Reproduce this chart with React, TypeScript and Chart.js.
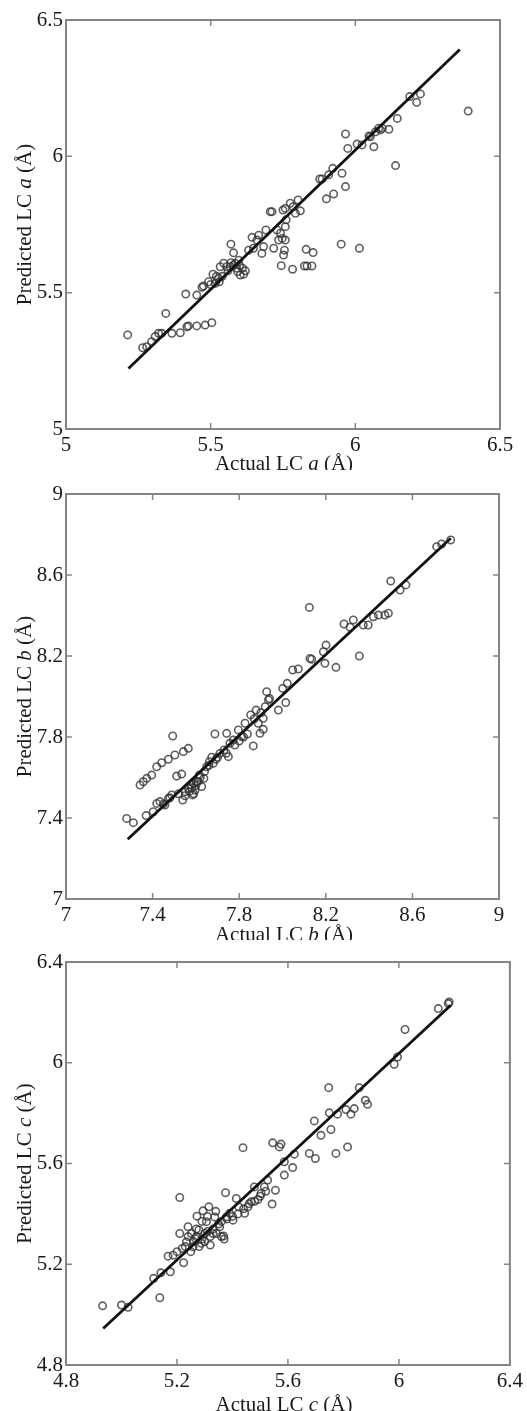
import React, { useEffect, useRef } from "react";
import { Chart, registerables } from "chart.js";

Chart.register(...registerables);

// ---------- Panel A (lattice constant a) ----------
const actualA = [
  5.213, 5.265, 5.279, 5.296, 5.308, 5.32, 5.331, 5.345, 5.366, 5.395, 5.418, 5.423, 5.452, 5.481, 5.504,
  5.414, 5.452, 5.47, 5.475, 5.493, 5.508, 5.516, 5.527, 5.533, 5.545, 5.556, 5.568, 5.579, 5.585, 5.593,
  5.602, 5.614, 5.57, 5.579, 5.597, 5.631, 5.643, 5.66, 5.677, 5.683, 5.691, 5.706, 5.712, 5.718, 5.735,
  5.747, 5.75, 5.758, 5.761, 5.758, 5.755, 5.752, 5.744, 5.783, 5.775, 5.785, 5.81, 5.824, 5.833, 5.83,
  5.85, 5.854, 5.877, 5.885, 5.9, 5.908, 5.922, 5.925, 5.951, 5.954, 5.966, 5.966, 5.974, 6.006, 6.014,
  6.023, 6.047, 6.064, 6.07, 6.081, 6.093, 6.116, 6.139, 6.145, 6.188, 6.212, 6.225, 6.39, 5.648, 5.666,
  5.729, 5.741, 5.758, 6.087, 6.052, 5.802, 5.793, 5.56, 5.59, 5.6, 5.61, 5.62, 5.53, 5.54, 5.5, 5.57, 5.52,
];
const predictedA = [
  5.345, 5.298, 5.302, 5.32, 5.339, 5.351, 5.351, 5.424, 5.351, 5.353, 5.375, 5.378, 5.378, 5.381, 5.39,
  5.495, 5.491, 5.52, 5.524, 5.54, 5.568, 5.534, 5.553, 5.595, 5.608, 5.595, 5.595, 5.601, 5.608, 5.577,
  5.565, 5.568, 5.678, 5.646, 5.619, 5.656, 5.703, 5.693, 5.644, 5.669, 5.73, 5.797, 5.797, 5.663, 5.693,
  5.699, 5.803, 5.809, 5.767, 5.742, 5.656, 5.638, 5.599, 5.586, 5.828, 5.815, 5.8, 5.598, 5.598, 5.659,
  5.598, 5.647, 5.917, 5.917, 5.844, 5.932, 5.956, 5.862, 5.678, 5.938, 5.889, 6.082, 6.029, 6.045, 5.663,
  6.042, 6.075, 6.035, 6.09, 6.103, 6.103, 6.099, 5.966, 6.139, 6.219, 6.198, 6.229, 6.166, 5.663, 5.711,
  5.73, 5.718, 5.693, 6.097, 6.072, 5.84, 5.791, 5.58, 5.59, 5.6, 5.59, 5.58, 5.54, 5.56, 5.53, 5.61, 5.56,
];
const fitXA = [5.216, 6.361];
const fitYA = [5.222, 6.392];
const ticksA = [5, 5.5, 6, 6.5];

// ---------- Panel B (lattice constant b) ----------
const actualB = [
  7.28, 7.311, 7.37, 7.403, 7.342, 7.357, 7.373, 7.396, 7.419, 7.442, 7.473, 7.493, 7.503, 7.542, 7.565,
  7.419, 7.434, 7.457, 7.473, 7.488, 7.511, 7.534, 7.539, 7.55, 7.565, 7.576, 7.585, 7.596, 7.604, 7.616,
  7.627, 7.637, 7.65, 7.662, 7.673, 7.688, 7.693, 7.711, 7.73, 7.742, 7.75, 7.757, 7.773, 7.796, 7.811,
  7.827, 7.838, 7.853, 7.865, 7.878, 7.888, 7.896, 7.911, 7.911, 7.927, 7.935, 7.981, 8.001, 8.015, 8.022,
  8.047, 8.073, 8.124, 8.127, 8.135, 8.189, 8.196, 8.201, 8.247, 8.284, 8.312, 8.327, 8.355, 8.373, 8.396,
  8.42, 8.443, 8.473, 8.489, 8.5, 8.543, 8.57, 8.712, 8.735, 8.777,
  7.58, 7.59, 7.6, 7.57, 7.61, 7.62, 7.55, 7.52, 7.64, 7.66, 7.68, 7.7, 7.45, 7.48, 7.59, 7.87, 7.9, 7.92,
  7.94, 7.74, 7.78, 7.8, 7.82,
];
const predictedB = [
  7.398, 7.377, 7.412, 7.431, 7.563, 7.579, 7.596, 7.612, 7.653, 7.673, 7.69, 7.805, 7.711, 7.728, 7.744,
  7.472, 7.481, 7.464, 7.497, 7.514, 7.607, 7.617, 7.489, 7.53, 7.547, 7.563, 7.514, 7.538, 7.579, 7.612,
  7.555, 7.596, 7.653, 7.678, 7.7, 7.815, 7.69, 7.719, 7.736, 7.818, 7.703, 7.769, 7.785, 7.835, 7.802,
  7.868, 7.815, 7.909, 7.756, 7.933, 7.868, 7.818, 7.838, 7.892, 8.024, 7.983, 7.933, 8.04, 7.97, 8.065,
  8.131, 8.136, 8.44, 8.188, 8.184, 8.221, 8.164, 8.254, 8.144, 8.358, 8.342, 8.378, 8.2, 8.353, 8.353,
  8.394, 8.402, 8.402, 8.411, 8.57, 8.526, 8.551, 8.74, 8.753, 8.773,
  7.55, 7.57, 7.56, 7.53, 7.58, 7.6, 7.51, 7.52, 7.63, 7.66, 7.67, 7.7, 7.47, 7.5, 7.52, 7.89, 7.92, 7.95,
  7.99, 7.72, 7.76, 7.78, 7.8,
];
const fitXB = [7.285, 8.777];
const fitYB = [7.295, 8.781];
const ticksB = [7, 7.4, 7.8, 8.2, 8.6, 9];

// ---------- Panel C (lattice constant c) ----------
const actualC = [
  4.932, 5.0, 5.024, 5.116, 5.142, 5.138, 5.168, 5.176, 5.186, 5.2, 5.21, 5.21, 5.219, 5.224, 5.234, 5.24,
  5.252, 5.258, 5.267, 5.272, 5.279, 5.288, 5.294, 5.3, 5.306, 5.315, 5.32, 5.33, 5.336, 5.342, 5.354,
  5.368, 5.375, 5.378, 5.39, 5.402, 5.414, 5.423, 5.438, 5.444, 5.456, 5.468, 5.479, 5.492, 5.503, 5.515,
  5.527, 5.543, 5.545, 5.555, 5.575, 5.569, 5.587, 5.587, 5.617, 5.623, 5.677, 5.695, 5.699, 5.719, 5.747,
  5.749, 5.755, 5.773, 5.779, 5.809, 5.815, 5.827, 5.839, 5.857, 5.879, 5.887, 5.983, 5.995, 6.022, 6.142,
  6.178, 6.181,
  5.26, 5.27, 5.28, 5.29, 5.3, 5.31, 5.32, 5.33, 5.35, 5.36, 5.38, 5.4, 5.42, 5.44, 5.46, 5.48, 5.5, 5.52,
  5.25, 5.23, 5.34, 5.31, 5.29, 5.27, 5.24, 5.37, 5.36,
];
const predictedC = [
  5.035, 5.038, 5.029, 5.144, 5.166, 5.067, 5.232, 5.17, 5.236, 5.25, 5.465, 5.322, 5.263, 5.206, 5.289,
  5.349, 5.322, 5.269, 5.302, 5.391, 5.336, 5.283, 5.412, 5.322, 5.369, 5.428, 5.276, 5.322, 5.388, 5.322,
  5.349, 5.312, 5.484, 5.388, 5.402, 5.375, 5.461, 5.428, 5.663, 5.402, 5.428, 5.448, 5.507, 5.457, 5.481,
  5.507, 5.534, 5.439, 5.682, 5.494, 5.677, 5.666, 5.607, 5.554, 5.584, 5.637, 5.64, 5.769, 5.62, 5.712,
  5.901, 5.801, 5.735, 5.64, 5.796, 5.814, 5.666, 5.796, 5.818, 5.901, 5.851, 5.835, 5.994, 6.023, 6.132,
  6.215, 6.235, 6.241,
  5.29, 5.31, 5.27, 5.3, 5.29, 5.33, 5.31, 5.34, 5.36, 5.37, 5.38, 5.39, 5.4, 5.42, 5.44, 5.45, 5.47, 5.49,
  5.25, 5.27, 5.41, 5.39, 5.37, 5.34, 5.31, 5.3, 5.31,
];
const fitXC = [4.934, 6.187];
const fitYC = [4.945, 6.228];
const ticksC = [4.8, 5.2, 5.6, 6, 6.4];

const SERIF = '"Liberation Serif", "Times New Roman", serif';
const FONT_SIZE = 21;

type Area = { left: number; right: number; top: number; bottom: number };

type PanelProps = {
  top: number;
  height: number;
  area: Area;
  actual: number[];
  predicted: number[];
  fitX: number[];
  fitY: number[];
  ticks: number[];
  letter: string;
  xTitleOffset: number;
};

function drawMixed(ctx: CanvasRenderingContext2D, parts: { t: string; i: boolean }[], cx: number, cy: number) {
  const fonts = parts.map((p) => `${p.i ? "italic " : ""}${FONT_SIZE}px ${SERIF}`);
  let total = 0;
  const widths = parts.map((p, k) => {
    ctx.font = fonts[k];
    const w = ctx.measureText(p.t).width;
    total += w;
    return w;
  });
  let x = cx - total / 2;
  ctx.textBaseline = "middle";
  ctx.textAlign = "left";
  parts.forEach((p, k) => {
    ctx.font = fonts[k];
    ctx.fillText(p.t, x, cy);
    x += widths[k];
  });
}

const fmt = (v: number) => String(Math.round(v * 100) / 100);

function Panel({ top, height, area, actual, predicted, fitX, fitY, ticks, letter, xTitleOffset }: PanelProps) {
  const ref = useRef<HTMLCanvasElement | null>(null);

  useEffect(() => {
    if (!ref.current) return;
    const min = ticks[0];
    const max = ticks[ticks.length - 1];

    const deco = {
      id: "deco",
      beforeDatasetsDraw(chart: any) {
        const { ctx, chartArea: a, scales } = chart;
        ctx.save();
        ctx.strokeStyle = "#858585";
        ctx.lineWidth = 2;
        ctx.strokeRect(a.left, a.top, a.right - a.left, a.bottom - a.top);
        const tl = 6;
        ctx.lineWidth = 1.5;
        ctx.beginPath();
        ticks.forEach((v) => {
          const px = scales.x.getPixelForValue(v);
          const py = scales.y.getPixelForValue(v);
          ctx.moveTo(px, a.bottom);
          ctx.lineTo(px, a.bottom - tl);
          ctx.moveTo(px, a.top);
          ctx.lineTo(px, a.top + tl);
          ctx.moveTo(a.left, py);
          ctx.lineTo(a.left + tl, py);
          ctx.moveTo(a.right, py);
          ctx.lineTo(a.right - tl, py);
        });
        ctx.stroke();
        ctx.restore();
      },
      afterDraw(chart: any) {
        const { ctx, chartArea: a } = chart;
        ctx.save();
        ctx.fillStyle = "#1a1a1a";
        drawMixed(
          ctx,
          [
            { t: "Actual LC ", i: false },
            { t: letter, i: true },
            { t: " (Å)", i: false },
          ],
          284,
          a.bottom + xTitleOffset
        );
        ctx.translate(25, (a.top + a.bottom) / 2);
        ctx.rotate(-Math.PI / 2);
        drawMixed(
          ctx,
          [
            { t: "Predicted LC ", i: false },
            { t: letter, i: true },
            { t: " (Å)", i: false },
          ],
          0,
          0
        );
        ctx.restore();
      },
    };

    const tickFont = { family: SERIF, size: FONT_SIZE };

    const chart = new Chart(ref.current, {
      type: "scatter",
      data: {
        datasets: [
          {
            type: "line",
            data: fitX.map((x, i) => ({ x, y: fitY[i] })),
            borderColor: "#111111",
            borderWidth: 2.8,
            pointRadius: 0,
            fill: false,
            order: 0,
          } as any,
          {
            type: "scatter",
            data: actual.map((x, i) => ({ x, y: predicted[i] })),
            pointRadius: 3.7,
            pointHoverRadius: 3.7,
            borderColor: "rgba(50,50,50,0.78)",
            backgroundColor: "rgba(0,0,0,0)",
            borderWidth: 1.6,
            order: 1,
          },
        ],
      },
      options: {
        responsive: false,
        animation: false,
        devicePixelRatio: 1,
        layout: { padding: { left: 0, top: area.top, right: 527 - area.right, bottom: 0 } },
        plugins: { legend: { display: false }, tooltip: { enabled: false } },
        scales: {
          x: {
            type: "linear",
            min,
            max,
            afterBuildTicks: (s: any) => {
              s.ticks = ticks.map((v) => ({ value: v }));
            },
            afterFit: (s: any) => {
              s.height = height - area.bottom;
            },
            ticks: {
              callback: (v: any) => fmt(Number(v)),
              font: tickFont,
              color: "#1a1a1a",
              padding: 4,
              maxRotation: 0,
              autoSkip: false,
            },
            grid: { display: false, drawTicks: false },
            border: { display: false },
          },
          y: {
            type: "linear",
            min,
            max,
            afterBuildTicks: (s: any) => {
              s.ticks = ticks.map((v) => ({ value: v }));
            },
            afterFit: (s: any) => {
              s.width = area.left;
            },
            ticks: {
              callback: (v: any) => fmt(Number(v)),
              font: tickFont,
              color: "#1a1a1a",
              padding: 3,
              autoSkip: false,
            },
            grid: { display: false, drawTicks: false },
            border: { display: false },
          },
        },
      },
      plugins: [deco],
    } as any);

    return () => chart.destroy();
  }, []);

  return (
    <div style={{ position: "absolute", left: 0, top, width: 527, height }}>
      <canvas ref={ref} width={527} height={height} style={{ display: "block", width: 527, height }} />
    </div>
  );
}

export default function App() {
  return (
    <div style={{ position: "absolute", left: 0, top: 0, width: 527, height: 1411, background: "#fff" }}>
      <Panel
        top={0}
        height={470}
        area={{ left: 66, right: 500, top: 20, bottom: 429 }}
        actual={actualA}
        predicted={predictedA}
        fitX={fitXA}
        fitY={fitYA}
        ticks={ticksA}
        letter="a"
        xTitleOffset={35}
      />
      <Panel
        top={470}
        height={470}
        area={{ left: 66, right: 499, top: 24, bottom: 429 }}
        actual={actualB}
        predicted={predictedB}
        fitX={fitXB}
        fitY={fitYB}
        ticks={ticksB}
        letter="b"
        xTitleOffset={36}
      />
      <Panel
        top={940}
        height={471}
        area={{ left: 66, right: 511, top: 22, bottom: 425 }}
        actual={actualC}
        predicted={predictedC}
        fitX={fitXC}
        fitY={fitYC}
        ticks={ticksC}
        letter="c"
        xTitleOffset={40}
      />
    </div>
  );
}
